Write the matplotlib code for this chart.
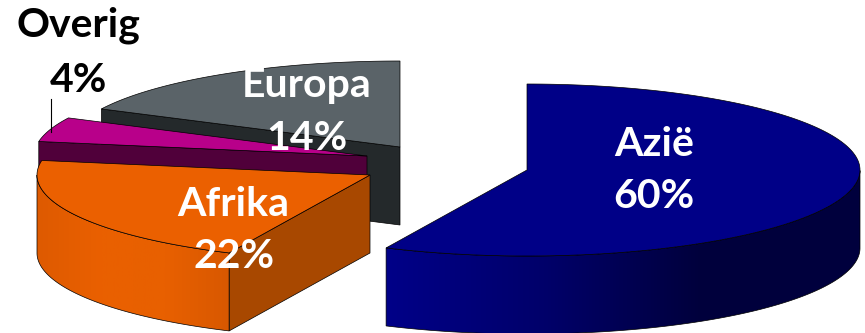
import numpy as np
import matplotlib
matplotlib.use('Agg')
import matplotlib.pyplot as plt
from matplotlib.colors import LinearSegmentedColormap
from matplotlib.patches import Polygon

regions = ['Azië', 'Afrika', 'Overig', 'Europa']
shares = [60, 22, 4, 14]
top_colors = ['#000087', '#EB6000', '#B8008A', '#5A6368']
wall_colors = [['#000088', '#00006A', '#00003C', '#00003E'], ['#DE5A00', '#EA6000', '#E86000', '#D85800'],
               ['#50003A', '#50003A'], ['#24292B', '#24292B']]
face_colors = ['#000088', '#A84800', '#50003A', '#24292B']

# pie shape, in pixels of the 865x333 canvas
rx, ry = 333, 86
depth = 78
centers = [(527, 170), (370, 175), (367, 156), (400, 147)]

# view foreshortening of the disc
squeeze = 1.3
axis_angle = 98


def view_angle(t):
    d = (np.asarray(t) - axis_angle + 180) % 360 - 180
    return axis_angle + np.degrees(2 * np.arctan(squeeze * np.tan(np.radians(d) / 2)))


def arc_points(c, a0, a1, n=160):
    a = np.radians(np.linspace(a0, a1, n))
    return np.column_stack([c[0] + rx * np.cos(a), c[1] - ry * np.sin(a)])


fig = plt.figure(figsize=(8.65, 3.33), dpi=100)
ax = fig.add_axes([0, 0, 1, 1])
ax.axis('off')

# slices run clockwise from the top of the disc
start = axis_angle + np.degrees(2 * np.arctan(np.tan(np.radians(90 - axis_angle) / 2) / squeeze))
edges = start - np.cumsum([0] + shares) * 3.6
slices = []
for i in range(len(shares)):
    t = np.linspace(edges[i], edges[i + 1], 400)
    phi = np.degrees(np.unwrap(np.radians(view_angle(t))))
    slices.append((phi[0], phi[-1]))

line = dict(edgecolor='black', linewidth=0.5)


def draw_slice(i, z):
    c = centers[i]
    a0, a1 = slices[i]
    arc = arc_points(c, a0, a1)

    # cut face along the first edge, Azië turns it away from the viewer
    if regions[i] != 'Azië':
        end = arc_points(c, a0, a0, 1)[0]
        face = [c, end, (end[0], end[1] + depth), (c[0], c[1] + depth)]
        ax.add_patch(Polygon(face, facecolor=face_colors[i], zorder=z, **line))

    # outer wall on the front half of the disc
    a = np.linspace(a1, a0, 500)
    front = a[np.sin(np.radians(a)) <= 0]
    if len(front) > 1:
        upper = arc_points(c, front[0], front[-1])
        wall = np.vstack([upper, (upper + [0, depth])[::-1]])
        patch = Polygon(wall, facecolor='none', edgecolor='black', linewidth=0.5, zorder=z + 0.2)
        ax.add_patch(patch)
        cmap = LinearSegmentedColormap.from_list('wall', wall_colors[i])
        grad = np.linspace(0, 1, 256)[None, :]
        im = ax.imshow(grad, extent=[wall[:, 0].min(), wall[:, 0].max(), 333, 0], aspect='auto',
                       cmap=cmap, zorder=z + 0.1)
        im.set_clip_path(patch)

    # top of the slice
    ax.add_patch(Polygon(np.vstack([[c], arc]), facecolor=top_colors[i], zorder=z + 0.3, **line))


for z, i in enumerate([3, 2, 1, 0]):
    draw_slice(i, z * 2 + 1)

ax.set_xlim(0, 865)
ax.set_ylim(333, 0)

# leader line of the small slice
ax.plot([51, 51], [99, 132], color='black', lw=0.8, zorder=20)

font = dict(family='Lato', fontweight='bold', ha='center', va='center', zorder=30)
label_pos = [(654, 145), (233, 205), (78, 25), (307, 85)]
share_pos = [(654, 196), (234, 257), (78, 80), (307, 138)]
label_col = ['white', 'white', 'black', 'white']
for i in range(len(regions)):
    ax.text(*label_pos[i], regions[i], color=label_col[i], fontsize=29.5, **font)
    ax.text(*share_pos[i], f'{shares[i]}%', color=label_col[i], fontsize=29.5, **font)

fig.savefig('out.png', dpi=100)
